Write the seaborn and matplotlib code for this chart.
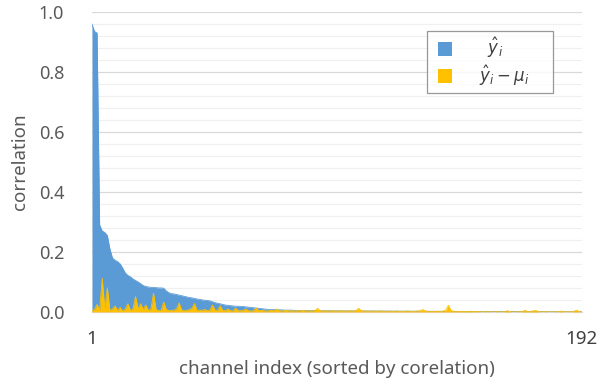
import numpy as np
import pandas as pd
import matplotlib
matplotlib.use('Agg')
import matplotlib.pyplot as plt
from matplotlib.lines import Line2D
import seaborn as sns

# correlación por canal (ordenado)
corr_y = [
    0.96, 0.935, 0.93, 0.29, 0.27, 0.265, 0.255, 0.21, 0.18, 0.172,
    0.168, 0.16, 0.146, 0.13, 0.122, 0.117, 0.11, 0.105, 0.10, 0.094,
    0.088, 0.085, 0.083, 0.082, 0.082, 0.081, 0.080, 0.080, 0.079, 0.070,
    0.064, 0.061, 0.060, 0.058, 0.056, 0.054, 0.052, 0.050, 0.048, 0.047,
    0.045, 0.043, 0.042, 0.040, 0.039, 0.038, 0.037, 0.034, 0.031, 0.029,
    0.027, 0.025, 0.023, 0.022, 0.021, 0.020, 0.019, 0.019, 0.018, 0.018,
    0.017, 0.016, 0.015, 0.014, 0.013, 0.012, 0.011, 0.010, 0.009, 0.008,
    0.008, 0.008, 0.007, 0.007, 0.007, 0.006, 0.006, 0.006, 0.006, 0.005,
    0.005, 0.005, 0.005, 0.005, 0.005, 0.0045, 0.0045, 0.0045, 0.004, 0.004,
    0.004, 0.004, 0.004, 0.004, 0.0038, 0.0037, 0.0036, 0.0035, 0.0035, 0.0034,
    0.0034, 0.0033, 0.0033, 0.0032, 0.0032, 0.0031, 0.0031, 0.003, 0.003, 0.003,
    0.003, 0.0029, 0.0029, 0.0028, 0.0028, 0.0027, 0.0027, 0.0026, 0.0026, 0.0025,
    0.0025, 0.0025, 0.0024, 0.0024, 0.0023, 0.0023, 0.0022, 0.0022, 0.0022, 0.0021,
    0.0021, 0.002, 0.002, 0.002, 0.0019, 0.0019, 0.0019, 0.0018, 0.0018, 0.0018,
    0.0017, 0.0017, 0.0017, 0.0016, 0.0016, 0.0016, 0.0015, 0.0015, 0.0015, 0.0015,
    0.0014, 0.0014, 0.0014, 0.0013, 0.0013, 0.0013, 0.0013, 0.0012, 0.0012, 0.0012,
    0.0012, 0.0011, 0.0011, 0.0011, 0.0011, 0.001, 0.001, 0.001, 0.001, 0.001,
    0.0009, 0.0009, 0.0009, 0.0009, 0.0009, 0.0008, 0.0008, 0.0008, 0.0008, 0.0008,
    0.0007, 0.0007, 0.0007, 0.0007, 0.0006, 0.0006, 0.0006, 0.0006, 0.0005, 0.0005,
    0.0005, 0.0005,
]

corr_y_mu = [
    0.004, 0.008, 0.025, 0.006, 0.112, 0.010, 0.080, 0.005, 0.010, 0.020,
    0.005, 0.015, 0.003, 0.010, 0.027, 0.005, 0.010, 0.051, 0.010, 0.027,
    0.008, 0.023, 0.005, 0.010, 0.062, 0.008, 0.004, 0.006, 0.033, 0.008,
    0.004, 0.005, 0.006, 0.010, 0.030, 0.006, 0.004, 0.005, 0.008, 0.012,
    0.028, 0.004, 0.006, 0.005, 0.008, 0.004, 0.006, 0.023, 0.006, 0.005,
    0.020, 0.005, 0.004, 0.010, 0.004, 0.003, 0.013, 0.004, 0.004, 0.005,
    0.010, 0.004, 0.003, 0.004, 0.013, 0.004, 0.005, 0.004, 0.003, 0.004,
    0.005, 0.004, 0.010, 0.004, 0.003, 0.004, 0.005, 0.003, 0.004, 0.003,
    0.004, 0.003, 0.005, 0.004, 0.003, 0.004, 0.003, 0.005, 0.012, 0.004,
    0.003, 0.004, 0.003, 0.003, 0.004, 0.003, 0.003, 0.004, 0.003, 0.003,
    0.004, 0.003, 0.003, 0.005, 0.012, 0.004, 0.003, 0.003, 0.002, 0.003,
    0.003, 0.002, 0.003, 0.003, 0.002, 0.002, 0.003, 0.002, 0.002, 0.003,
    0.002, 0.002, 0.002, 0.003, 0.002, 0.002, 0.002, 0.003, 0.004, 0.008,
    0.003, 0.002, 0.002, 0.002, 0.002, 0.002, 0.002, 0.003, 0.006, 0.022,
    0.005, 0.002, 0.002, 0.002, 0.001, 0.002, 0.001, 0.002, 0.002, 0.001,
    0.001, 0.001, 0.000, 0.001, 0.000, 0.001, 0.000, 0.000, 0.001, 0.000,
    0.000, 0.001, 0.004, 0.001, 0.000, 0.000, 0.001, 0.000, 0.002, 0.005,
    0.001, 0.002, 0.003, 0.005, 0.002, 0.000, 0.000, 0.001, 0.000, 0.000,
    0.000, 0.001, 0.000, 0.003, 0.000, 0.000, 0.001, 0.000, 0.002, 0.006,
    0.001, 0.000,
]

canal = np.arange(1, len(corr_y) + 1)
x_ticks = [1, 192]
y_ticks = [0.0, 0.2, 0.4, 0.6, 0.8, 1.0]

df = pd.DataFrame({'canal': canal, 'y': corr_y, 'y_mu': corr_y_mu})

azul = '#5B9BD5'
amarillo = '#FFC000'
gris = '#595959'

sns.set_style('white')
plt.rcParams['font.family'] = ['Noto Sans', 'DejaVu Sans']

fig = plt.figure(figsize=(6.13, 3.87), dpi=100)
ax = fig.add_axes([0.150, 0.194, 0.799, 0.775])

# áreas
ax.fill_between(df['canal'], 0, df['y'], color=azul, linewidth=0, zorder=2)
sns.lineplot(data=df, x='canal', y='y', color=azul, linewidth=0.6, ax=ax, zorder=2)
ax.fill_between(df['canal'], 0, df['y_mu'], color=amarillo, linewidth=0, zorder=3)
sns.lineplot(data=df, x='canal', y='y_mu', color=amarillo, linewidth=0.6, ax=ax, zorder=3)

ax.set_xlim(1, 192)
ax.set_ylim(0, 1.0)
ax.set_yticks(y_ticks)
ax.set_yticks(np.arange(0, 1.001, 0.04), minor=True)
ax.set_yticklabels([f'{v:.1f}' for v in y_ticks], color=gris, fontsize=13)
ax.set_xticks(x_ticks)
ax.set_xticklabels([str(v) for v in x_ticks], color='#404040', fontsize=13.5, fontweight='bold')
ax.tick_params(axis='y', which='both', length=0, pad=20)
ax.tick_params(axis='x', length=0, pad=13)

ax.grid(axis='y', which='major', color='#d9d9d9', linewidth=0.9, zorder=0)
ax.grid(axis='y', which='minor', color='#f0f0f0', linewidth=0.9, zorder=0)
ax.set_axisbelow(True)
for s in ['top', 'right', 'left']:
    ax.spines[s].set_visible(False)
ax.spines['bottom'].set_color('#d9d9d9')

ax.set_xlabel('channel index (sorted by corelation)', color=gris, fontsize=13.5, labelpad=9)
ax.set_ylabel('correlation', color=gris, fontsize=13.5, labelpad=7)

# leyenda tipo Excel
handles = [Line2D([], [], marker='s', linestyle='none', markersize=9.5,
                  markerfacecolor=c, markeredgewidth=0) for c in (azul, amarillo)]
labels = [r'$\;\;\hat{y}_i$', r'$\hat{y}_i - \mu_i$']
leg = ax.legend(handles, labels, loc='upper left', bbox_to_anchor=(0.684, 0.74, 0.257, 0.197),
                mode='expand', borderaxespad=0, frameon=True, fancybox=False, fontsize=12,
                handlelength=1.6, handletextpad=1.25,
                borderpad=0.3, labelspacing=0.18)
leg.get_frame().set_edgecolor('#7f7f7f')
leg.get_frame().set_linewidth(0.9)
for t in leg.get_texts():
    t.set_color('#404040')

fig.savefig('out.png', dpi=100)
